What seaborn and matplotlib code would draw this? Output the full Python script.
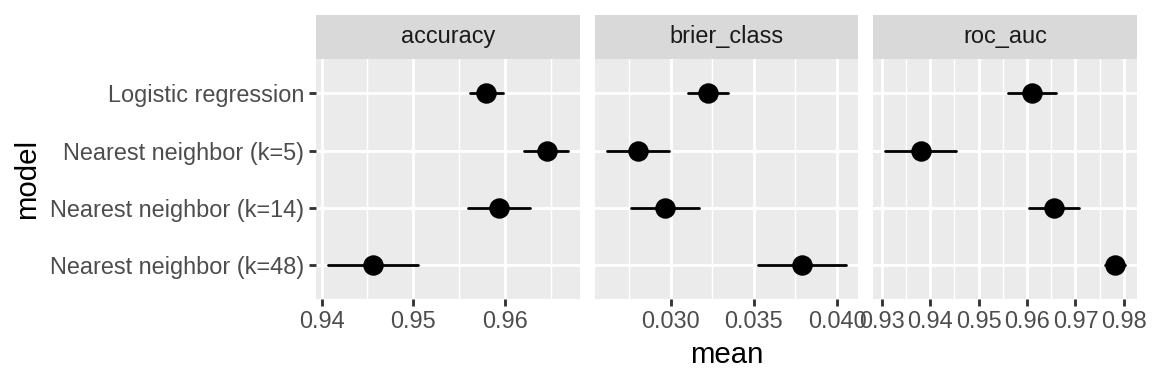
import numpy as np
import pandas as pd
import matplotlib
matplotlib.use("Agg")
import matplotlib.pyplot as plt
import seaborn as sns

# ---- data ----
models = ["Logistic regression", "Nearest neighbor (k=5)",
          "Nearest neighbor (k=14)", "Nearest neighbor (k=48)"]
metrics = ["accuracy", "brier_class", "roc_auc"]

accuracy_mean = [0.9580, 0.9646, 0.9594, 0.9456]
accuracy_lower = [0.9562, 0.9621, 0.9560, 0.9407]
accuracy_upper = [0.9598, 0.9669, 0.9627, 0.9505]

brier_mean = [0.03224, 0.02804, 0.02966, 0.03790]
brier_lower = [0.03102, 0.02618, 0.02764, 0.03524]
brier_upper = [0.03348, 0.02988, 0.03168, 0.04056]

roc_mean = [0.9611, 0.9380, 0.9655, 0.9782]
roc_lower = [0.9561, 0.9307, 0.9603, 0.9762]
roc_upper = [0.9660, 0.9453, 0.9707, 0.9803]

accuracy_ticks = [0.94, 0.95, 0.96]
brier_ticks = [0.030, 0.035, 0.040]
roc_ticks = [0.93, 0.94, 0.95, 0.96, 0.97, 0.98]
accuracy_labels = ["0.94", "0.95", "0.96"]
brier_labels = ["0.030", "0.035", "0.040"]
roc_labels = ["0.93", "0.94", "0.95", "0.96", "0.97", "0.98"]

series = {
    "accuracy": (accuracy_lower, accuracy_mean, accuracy_upper, accuracy_ticks, accuracy_labels),
    "brier_class": (brier_lower, brier_mean, brier_upper, brier_ticks, brier_labels),
    "roc_auc": (roc_lower, roc_mean, roc_upper, roc_ticks, roc_labels),
}

rows = []
for met, (lo, me, up, _, _) in series.items():
    for i, m in enumerate(models):
        for kind, v in (("lower", lo[i]), ("mean", me[i]), ("upper", up[i])):
            rows.append({"metric": met, "model": m, "kind": kind, "value": v})
df = pd.DataFrame(rows)

# ---- style ----
sns.set_theme(style="darkgrid", rc={
    "axes.facecolor": "#EBEBEB",
    "grid.color": "white",
})
plt.rcParams["font.family"] = ["Liberation Sans", "DejaVu Sans"]

W, H = 1152, 384
fig = plt.figure(figsize=(12, 4), dpi=96)
fig.patch.set_facecolor("white")

panel_x = [(316, 580), (595, 858.3), (873.3, 1137.3)]
p_top, p_bot = 59, 299.3
strip_top = 15

tick_fs = 17.6
title_fs = 22

for k, met in enumerate(metrics):
    x0, x1 = panel_x[k]
    ax = fig.add_axes([x0 / W, 1 - p_bot / H, (x1 - x0) / W, (p_bot - p_top) / H])
    sub = df[df.metric == met]
    sns.pointplot(data=sub, x="value", y="model", order=models,
                  estimator="median", errorbar=("pi", 100),
                  linestyle="none", color="black", markersize=13.3,
                  err_kws={"linewidth": 2.1}, ax=ax)
    lo, me, up, ticks, labels = series[met]
    ax.set_xticks(ticks)
    ax.set_xticklabels(labels)
    minors = [(a + b) / 2 for a, b in zip(ticks[:-1], ticks[1:])]
    step = ticks[1] - ticks[0]
    minors = [ticks[0] - step / 2] + minors + [ticks[-1] + step / 2]
    ax.set_xticks(minors, minor=True)
    vmin, vmax = min(lo), max(up)
    pad = (vmax - vmin) * 0.05
    ax.set_xlim(vmin - pad, vmax + pad)
    ax.set_ylim(len(models) - 1 + 0.6, -0.6)
    ax.grid(True, which="major", color="white", linewidth=2.13)
    ax.grid(True, which="minor", axis="x", color="white", linewidth=1.07)
    ax.set_axisbelow(True)
    for s in ax.spines.values():
        s.set_visible(False)
    ax.tick_params(axis="x", which="major", bottom=True, length=5.5, width=2.13,
                   color="#333333", labelsize=tick_fs, labelcolor="#4D4D4D", pad=2.5)
    ax.tick_params(axis="x", which="minor", bottom=False, length=0)
    ax.set_xlabel("")
    ax.set_ylabel("")
    if k == 0:
        ax.tick_params(axis="y", left=True, length=5.5, width=2.13, color="#333333",
                       labelsize=tick_fs, labelcolor="#4D4D4D", pad=3.5)
    else:
        ax.tick_params(axis="y", left=False, labelleft=False)

    # strip
    sax = fig.add_axes([x0 / W, 1 - p_top / H, (x1 - x0) / W, (p_top - strip_top) / H])
    sax.set_facecolor("#D9D9D9")
    sax.set_xticks([])
    sax.set_yticks([])
    sax.grid(False)
    for s in sax.spines.values():
        s.set_visible(False)
    sax.text(0.5, 0.5, met, ha="center", va="center", fontsize=tick_fs,
             color="#1A1A1A", transform=sax.transAxes)

fig.text(726.6 / W, 1 - 355 / H, "mean", ha="center", va="center",
         fontsize=title_fs, color="black")
fig.text(27 / W, 1 - 179 / H, "model", ha="center", va="center",
         rotation=90, fontsize=title_fs, color="black")

fig.savefig("out.png", dpi=96)
